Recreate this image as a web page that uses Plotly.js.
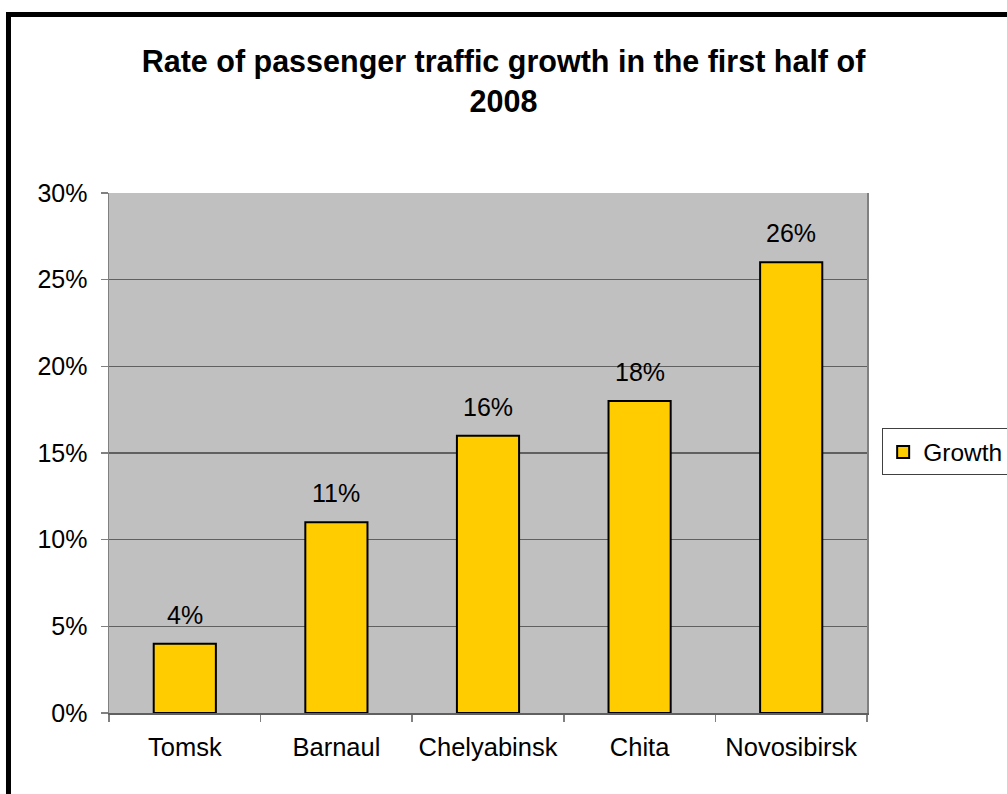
<!DOCTYPE html>
<html>
<head>
<meta charset="utf-8">
<script src="https://cdn.plot.ly/plotly-3.0.1.min.js"></script>
<style>html,body{margin:0;padding:0;background:#fff;}#chart{width:1007px;height:794px;}</style>
</head>
<body>
<div id="chart"></div>
<script>
const cities = ["Tomsk", "Barnaul", "Chelyabinsk", "Chita", "Novosibirsk"];
const growth = [4, 11, 16, 18, 26];
const seriesName = "Growth";
const chartTitle = "Rate of passenger traffic growth in the first half of<br>2008";

const FONT = "Liberation Sans, Arial, sans-serif";

const trace = {
  type: "bar",
  x: cities,
  y: growth,
  name: seriesName,
  marker: {color: "#FFCC00", line: {color: "#000000", width: 2}},
  hoverinfo: "x+y"
};

const annotations = cities.map((c, i) => ({
  x: c, y: growth[i], xref: "x", yref: "y",
  text: growth[i] + "%",
  showarrow: false, yanchor: "bottom", yshift: 13,
  font: {family: FONT, size: 25, color: "#000"}
}));

const layout = {
  width: 1007, height: 794,
  margin: {l: 109, r: 140, t: 193, b: 81, autoexpand: false},
  paper_bgcolor: "#ffffff",
  plot_bgcolor: "#C0C0C0",
  font: {family: FONT, size: 25, color: "#000"},
  title: {
    text: chartTitle,
    font: {family: FONT, size: 30.5, color: "#000", weight: "bold"},
    x: 0.5, xanchor: "center", xref: "container",
    y: 0.909, yanchor: "middle", yref: "container"
  },
  bargap: 0.59,
  xaxis: {
    type: "category",
    tickson: "boundaries",
    ticks: "outside", ticklen: 7, tickcolor: "#808080", tickwidth: 1.5,
    showline: true, linecolor: "#606060", linewidth: 1.5,
    showgrid: false,
    tickfont: {family: FONT, size: 25.5, color: "#000"},
    ticklabelstandoff: 11
  },
  yaxis: {
    range: [0, 30], dtick: 5, ticksuffix: "%",
    ticks: "outside", ticklen: 7, tickcolor: "#808080", tickwidth: 1.5,
    showline: true, mirror: true, linecolor: "#808080", linewidth: 1.5,
    showgrid: true, gridcolor: "#606060", gridwidth: 1.2,
    zeroline: false,
    tickfont: {family: FONT, size: 25, color: "#000"},
    ticklabelstandoff: 8
  },
  showlegend: true,
  legend: {
    x: 1.02, xanchor: "left", y: 0.502, yanchor: "middle",
    bgcolor: "#ffffff", bordercolor: "#404040", borderwidth: 1,
    font: {family: FONT, size: 24.5, color: "#000"},
    itemwidth: 30
  },
  annotations: annotations,
  shapes: [{
    type: "rect", xref: "paper", yref: "paper",
    x0: -0.1326, x1: 1.2018, y0: -0.167, y1: 1.3433,
    line: {color: "#000", width: 5}, fillcolor: "rgba(0,0,0,0)", layer: "above"
  }]
};

Plotly.newPlot("chart", [trace], layout, {displayModeBar: false, staticPlot: true});
</script>
</body>
</html>
